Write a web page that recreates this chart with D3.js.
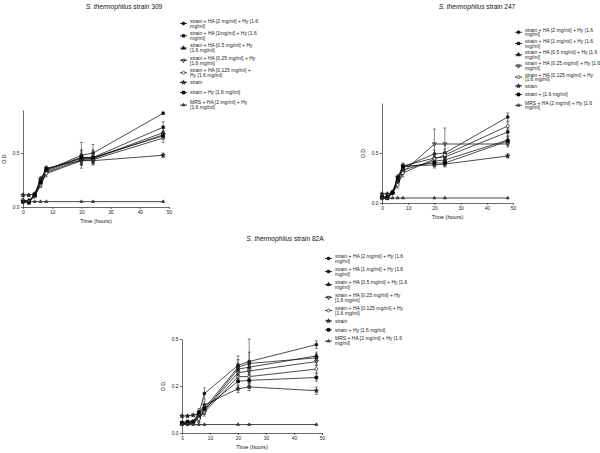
<!DOCTYPE html>
<html>
<head>
<meta charset="utf-8">
<script src="https://cdn.jsdelivr.net/npm/d3@7"></script>
<style>
  body { margin: 0; background: #fff; }
  svg { font-family: "Liberation Sans", Arial, sans-serif; }
</style>
</head>
<body>
<div id="chart"></div>
<script>
// sampling times (hours)
const times = [0, 2, 4, 6, 8, 20, 24, 48];

// --- strain 309 ---
const od309 = [
  [0.06, 0.05, 0.12, 0.25, 0.34, 0.48, 0.50, 0.87],
  [0.05, 0.05, 0.11, 0.22, 0.33, 0.46, 0.46, 0.74],
  [0.06, 0.06, 0.11, 0.24, 0.35, 0.45, 0.45, 0.69],
  [0.05, 0.05, 0.10, 0.21, 0.32, 0.44, 0.45, 0.67],
  [0.06, 0.05, 0.10, 0.20, 0.31, 0.43, 0.44, 0.64],
  [0.11, 0.11, 0.12, 0.26, 0.36, 0.43, 0.43, 0.48],
  [0.05, 0.04, 0.11, 0.23, 0.35, 0.46, 0.46, 0.66],
  [0.05, 0.05, 0.05, 0.05, 0.05, 0.05, 0.05, 0.05]
];
const sd309 = [
  [0.01, 0.01, 0.01, 0.02, 0.02, 0.12, 0.08, 0.01],
  [0.01, 0.01, 0.01, 0.03, 0.02, 0.07, 0.07, 0.05],
  [0.01, 0.01, 0.01, 0.02, 0.02, 0.05, 0.04, 0.04],
  [0.01, 0.01, 0.01, 0.02, 0.02, 0.04, 0.03, 0.03],
  [0.01, 0.01, 0.01, 0.02, 0.03, 0.04, 0.03, 0.04],
  [0.01, 0.01, 0.01, 0.02, 0.02, 0.04, 0.03, 0.02],
  [0.01, 0.01, 0.01, 0.03, 0.02, 0.06, 0.06, 0.03],
  [0, 0, 0, 0, 0, 0, 0, 0]
];
const legend309 = [
  ["strain + HA [2 mg/ml] + Hy [1.6", "mg/ml]"],
  ["strain + HA [1mg/ml] + Hy [1.6", "mg/ml]"],
  ["strain + HA [0.5 mg/ml] + Hy", "[1.6 mg/ml]"],
  ["strain + HA [0.25 mg/ml] + Hy", "[1.6 mg/ml]"],
  ["strain + HA [0.125 mg/ml] +", "Hy [1.6 mg/ml]"],
  ["strain"],
  ["strain + Hy [1.6 mg/ml]"],
  ["MRS + HA [2 mg/ml] + Hy", "[1.6 mg/ml]"]
];

// --- strain 247 ---
const od247 = [
  [0.06, 0.06, 0.11, 0.24, 0.36, 0.49, 0.50, 0.86],
  [0.05, 0.05, 0.10, 0.22, 0.37, 0.45, 0.46, 0.71],
  [0.06, 0.06, 0.11, 0.23, 0.33, 0.42, 0.43, 0.63],
  [0.05, 0.05, 0.10, 0.20, 0.31, 0.59, 0.59, 0.59],
  [0.06, 0.05, 0.10, 0.18, 0.30, 0.44, 0.48, 0.77],
  [0.09, 0.09, 0.10, 0.26, 0.37, 0.38, 0.39, 0.47],
  [0.06, 0.05, 0.10, 0.25, 0.36, 0.40, 0.40, 0.62],
  [0.05, 0.05, 0.05, 0.05, 0.05, 0.05, 0.05, 0.05]
];
const sd247 = [
  [0.01, 0.01, 0.01, 0.02, 0.02, 0.04, 0.04, 0.04],
  [0.01, 0.01, 0.01, 0.03, 0.03, 0.04, 0.04, 0.04],
  [0.01, 0.01, 0.01, 0.02, 0.02, 0.03, 0.03, 0.04],
  [0.01, 0.01, 0.01, 0.02, 0.02, 0.15, 0.16, 0.03],
  [0.01, 0.01, 0.01, 0.03, 0.04, 0.03, 0.03, 0.04],
  [0.01, 0.01, 0.01, 0.02, 0.02, 0.03, 0.03, 0.02],
  [0.01, 0.01, 0.01, 0.02, 0.02, 0.03, 0.03, 0.04],
  [0, 0, 0, 0, 0, 0, 0, 0]
];
const legend247 = [
  ["strain + HA [2 mg/ml] + Hy [1.6", "mg/ml]"],
  ["strain + HA [1 mg/ml] + Hy [1.6", "mg/ml]"],
  ["strain + HA [0.5 mg/ml] + Hy [1.6", "mg/ml]"],
  ["strain + HA [0.25 mg/ml] + Hy [1.6", "mg/ml]"],
  ["strain + HA [0.125 mg/ml] + Hy", "[1.6 mg/ml]"],
  ["strain"],
  ["strain + [1.6 mg/ml]"],
  ["MRS + HA [2 mg/ml] + Hy [1.6", "mg/ml]"]
];

// --- strain 82A ---
const od82A = [
  [0.05, 0.05, 0.055, 0.10, 0.21, 0.36, 0.38, 0.47],
  [0.055, 0.06, 0.06, 0.09, 0.13, 0.35, 0.37, 0.40],
  [0.05, 0.05, 0.06, 0.08, 0.12, 0.34, 0.35, 0.41],
  [0.05, 0.055, 0.06, 0.08, 0.12, 0.32, 0.33, 0.38],
  [0.05, 0.05, 0.055, 0.075, 0.11, 0.30, 0.30, 0.34],
  [0.09, 0.09, 0.095, 0.10, 0.15, 0.235, 0.245, 0.225],
  [0.055, 0.06, 0.06, 0.11, 0.13, 0.275, 0.28, 0.295],
  [0.045, 0.045, 0.045, 0.045, 0.045, 0.045, 0.045, 0.045]
];
const sd82A = [
  [0.005, 0.005, 0.005, 0.02, 0.03, 0.05, 0.12, 0.02],
  [0.005, 0.005, 0.005, 0.02, 0.02, 0.04, 0.06, 0.02],
  [0.005, 0.005, 0.005, 0.02, 0.02, 0.03, 0.03, 0.02],
  [0.005, 0.005, 0.005, 0.02, 0.02, 0.03, 0.03, 0.02],
  [0.005, 0.005, 0.005, 0.02, 0.02, 0.03, 0.03, 0.02],
  [0.005, 0.005, 0.005, 0.01, 0.02, 0.02, 0.02, 0.02],
  [0.005, 0.005, 0.005, 0.02, 0.02, 0.03, 0.03, 0.02],
  [0, 0, 0, 0, 0, 0, 0, 0]
];
const legend82A = [
  ["strain + HA [2 mg/ml] + Hy [1.6", "mg/ml]"],
  ["strain + HA [1 mg/ml] + Hy [1.6", "mg/ml]"],
  ["strain + HA [0.5 mg/ml] + Hy [1.6", "mg/ml]"],
  ["strain + HA [0.25 mg/ml] + Hy", "[1.6 mg/ml]"],
  ["strain + HA [0.125 mg/ml] + Hy", "[1.6 mg/ml]"],
  ["strain"],
  ["strain + Hy [1.6 mg/ml]"],
  ["MRS + HA [2 mg/ml] + Hy [1.6", "mg/ml]"]
];

const xTicks = [0, 10, 20, 30, 40, 50];
const yTicks309 = [0, 0.5], yLabels309 = ["0.0", "0.5"];
const yTicks247 = [0, 0.5], yLabels247 = ["0.0", "0.5"];
const yTicks82A = [0, 0.25, 0.5], yLabels82A = ["0.0", "0.2", "0.5"];

const svg = d3.select("#chart").append("svg")
  .attr("width", 600).attr("height", 453);

// marker styles, one per series (legend order)
const markers = [
  {type: d3.symbolCircle, size: 7, fill: "#111"},
  {type: d3.symbolSquare, size: 7, fill: "#111"},
  {type: d3.symbolTriangle, size: 7, fill: "#111"},
  {type: d3.symbolTriangle, size: 7, fill: "#888", rot: 180},
  {type: d3.symbolCircle, size: 7, fill: "#fff"},
  {type: d3.symbolStar, size: 6, fill: "#333"},
  {type: d3.symbolSquare, size: 9, fill: "#000"},
  {type: d3.symbolTriangle, size: 4, fill: "#555"}
];

function drawMarker(g, m, x, y) {
  g.append("path")
    .attr("d", d3.symbol().type(m.type).size(m.size)())
    .attr("transform", "translate(" + x + "," + y + ")" + (m.rot ? " rotate(" + m.rot + ")" : ""))
    .attr("fill", m.fill)
    .attr("stroke", "#111")
    .attr("stroke-width", 0.6);
}

function drawPanel(p) {
  const g = svg.append("g");
  const x = d3.scaleLinear().domain([0, 50]).range([p.x0, p.x1]);
  const y = d3.scaleLinear().domain([0, p.ymax]).range([p.y0, p.y1]);

  // title: italic species + plain strain
  const t = g.append("text")
    .attr("x", p.tx).attr("y", p.ty)
    .attr("text-anchor", "middle")
    .attr("font-size", 6.6).attr("fill", "#111");
  t.append("tspan").attr("font-style", "italic").text("S. thermophilus");
  t.append("tspan").text(" strain " + p.name);

  // axes
  const xa = g.append("g")
    .attr("transform", "translate(0," + p.y0 + ")")
    .call(d3.axisBottom(x).tickValues(xTicks).tickSize(2).tickPadding(1.5).tickSizeOuter(0));
  const ya = g.append("g")
    .attr("transform", "translate(" + p.x0 + ",0)")
    .call(d3.axisLeft(y).tickValues(p.yTicks).tickSize(2).tickPadding(1.5).tickSizeOuter(0)
      .tickFormat((d, i) => p.yLabels[i]));
  [xa, ya].forEach(a => {
    a.selectAll("path,line").attr("stroke", "#444").attr("stroke-width", 0.8);
    a.selectAll("text").attr("font-size", 4.8).attr("fill", "#222").attr("font-family", "Liberation Sans, Arial, sans-serif");
  });

  g.append("text")
    .attr("x", (p.x0 + p.x1) / 2).attr("y", p.y0 + 16)
    .attr("text-anchor", "middle").attr("font-size", 5.6).attr("fill", "#111")
    .text("Time (hours)");
  g.append("text")
    .attr("transform", "translate(" + (p.x0 - 17) + "," + ((p.y0 + p.y1) / 2) + ") rotate(-90)")
    .attr("text-anchor", "middle").attr("font-size", 5.2).attr("fill", "#111")
    .text("O.D.");

  const line = d3.line().x(d => x(d[0])).y(d => y(d[1]));

  p.od.forEach((vals, s) => {
    const pts = times.map((tt, i) => [tt, vals[i], p.sd[s][i]]);
    // error bars
    pts.forEach(d => {
      if (!d[2]) return;
      const cx = x(d[0]);
      g.append("line").attr("x1", cx).attr("x2", cx)
        .attr("y1", y(d[1] - d[2])).attr("y2", y(d[1] + d[2]))
        .attr("stroke", "#333").attr("stroke-width", 0.6);
      [d[1] - d[2], d[1] + d[2]].forEach(v => {
        g.append("line").attr("x1", cx - 1.5).attr("x2", cx + 1.5)
          .attr("y1", y(v)).attr("y2", y(v))
          .attr("stroke", "#333").attr("stroke-width", 0.6);
      });
    });
    g.append("path").datum(pts)
      .attr("d", line).attr("fill", "none")
      .attr("stroke", "#111").attr("stroke-width", 0.75);
    pts.forEach(d => drawMarker(g, markers[s], x(d[0]), y(d[1])));
  });

  // legend
  let ly = p.ly;
  p.legend.forEach((lines, s) => {
    const h = Math.max(lines.length * p.lineH, p.minH);
    const my = ly + (lines.length - 1) * p.lineH / 2;
    g.append("line").attr("x1", p.lx).attr("x2", p.lx + 7)
      .attr("y1", my).attr("y2", my)
      .attr("stroke", "#111").attr("stroke-width", 0.8);
    drawMarker(g, markers[s], p.lx + 3.5, my);
    const tx = g.append("text")
      .attr("x", p.lx + 10).attr("y", ly + 1.7)
      .attr("font-size", 5).attr("fill", "#222");
    lines.forEach((ln, i) => {
      tx.append("tspan").attr("x", p.lx + 10).attr("dy", i ? p.lineH : 0).text(ln);
    });
    ly += h + p.gap;
  });
}

drawPanel({name: "309", od: od309, sd: sd309, legend: legend309,
  x0: 23, x1: 169, y0: 207, y1: 110, ymax: 0.9, yTicks: yTicks309, yLabels: yLabels309,
  tx: 124, ty: 9, lx: 180, ly: 21, lineH: 5, minH: 7.7, gap: 2.3});

drawPanel({name: "247", od: od247, sd: sd247, legend: legend247,
  x0: 382, x1: 513, y0: 203, y1: 103, ymax: 1.0, yTicks: yTicks247, yLabels: yLabels247,
  tx: 477, ty: 9, lx: 515, ly: 30, lineH: 4.6, minH: 6.5, gap: 2});

drawPanel({name: "82A", od: od82A, sd: sd82A, legend: legend82A,
  x0: 182, x1: 322, y0: 433, y1: 339, ymax: 0.5, yTicks: yTicks82A, yLabels: yLabels82A,
  tx: 285, ty: 241, lx: 325, ly: 256, lineH: 5, minH: 5.8, gap: 3});
</script>
</body>
</html>
